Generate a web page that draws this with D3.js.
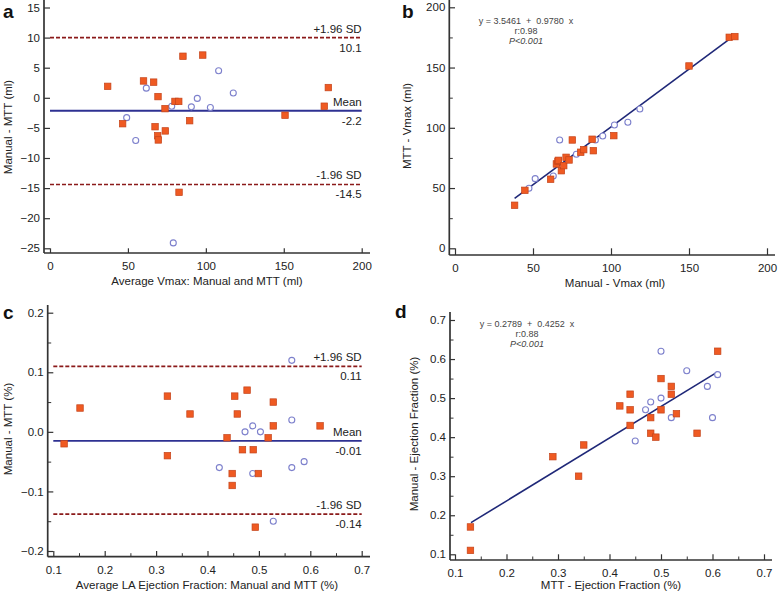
<!DOCTYPE html>
<html><head><meta charset="utf-8">
<script src="https://cdn.jsdelivr.net/npm/d3@7/dist/d3.min.js"></script>
<style>
body{margin:0;background:#fff}
text{font-family:Arial,"Liberation Sans",sans-serif;fill:#222}
</style>
</head><body>
<svg id="chart" width="778" height="594"></svg>
<script>
// ---------------- DATA ----------------
// Panel a: Bland-Altman Vmax (average, difference)
const aSquares = [[37,1.9],[46.6,-4.3],[60,2.8],[66.5,2.6],[67.4,-4.8],[69.3,0.2],[69.1,-6.3],[69.5,-7.0],
  [73.8,-1.8],[74,-5.5],[80.2,-0.6],[82.6,-0.6],[85.3,6.9],[98,7.1],[89.6,-3.8],[82.8,-15.7],
  [150.8,-2.9],[176,-1.4],[178.6,1.7]];
const aCircles = [[49.2,-3.3],[55,-7.1],[61.8,1.6],[78.1,-1.4],[90.7,-1.5],[94.5,-0.1],[102.9,-1.6],
  [108.2,4.5],[117.6,0.8],[79.1,-24.1]];
const aLimitValues = [10.0, -2.15, -14.4];
const aLimitLabels = ["+1.96 SD", "Mean", "-1.96 SD"];
const aLimitNumbers = ["10.1", "-2.2", "-14.5"];
const aXTicks = [0,50,100,150,200];
const aYTicks = [-25,-20,-15,-10,-5,0,5,10,15];

// Panel b: correlation Vmax (manual, MTT)
const bSquares = [[38.2,35.7],[44.8,48.1],[61.3,57.3],[65,70],[66,72.2],[66.3,73],[68.2,64.4],[69.7,68.6],
  [71.2,75.5],[73.1,73.3],[75.2,89.9],[80.6,79.7],[82.5,81.9],[87.9,90.5],[88.7,81],[101.8,93.5],
  [150,151.3],[175.8,175.1],[179.4,175.7]];
const bCircles = [[47.4,49.8],[51.4,57.8],[63,60],[67.1,89.9],[77.8,78],[90,89.9],[94.7,93.2],
  [102.2,102.3],[110.8,104.6],[118.5,115.6]];
const bFitLine = [[38.2,41.5],[179,176.5]];
const bEquation = ["y = 3.5461  +  0.9780  x", "r:0.98", "P<0.001"];
const bXTicks = [0,50,100,150,200];
const bYTicks = [0,50,100,150,200];
const bYMinor = [25,75,125,175];

// Panel c: Bland-Altman LA ejection fraction
const cSquares = [[0.121,-0.02],[0.152,0.04],[0.322,0.06],[0.322,-0.04],[0.366,0.03],[0.438,-0.01],
  [0.448,-0.07],[0.448,-0.09],[0.453,0.06],[0.458,0.03],[0.477,0.07],[0.468,-0.03],[0.489,-0.03],
  [0.499,-0.07],[0.493,-0.16],[0.518,-0.01],[0.528,0.05],[0.528,0.01],[0.619,0.01]];
const cCircles = [[0.423,-0.06],[0.473,0.0],[0.488,0.01],[0.488,-0.07],[0.503,0.0],[0.528,-0.15],
  [0.564,0.12],[0.564,0.02],[0.564,-0.06],[0.588,-0.05]];
const cLimitValues = [0.11, -0.015, -0.138];
const cLimitLabels = ["+1.96 SD", "Mean", "-1.96 SD"];
const cLimitNumbers = ["0.11", "-0.01", "-0.14"];
const cXTicks = [0.1,0.2,0.3,0.4,0.5,0.6,0.7];
const cXMinor = [0.15,0.25,0.35,0.45,0.55,0.65];
const cYTicks = [-0.2,-0.1,0,0.1,0.2];
const cYMinor = [-0.15,-0.05,0.05,0.15];

// Panel d: correlation ejection fraction
const dSquares = [[0.13,0.17],[0.13,0.11],[0.29,0.35],[0.34,0.30],[0.35,0.38],[0.42,0.48],[0.44,0.51],
  [0.44,0.47],[0.44,0.43],[0.48,0.45],[0.48,0.41],[0.49,0.40],[0.50,0.55],[0.50,0.47],[0.52,0.53],
  [0.52,0.51],[0.53,0.46],[0.57,0.41],[0.61,0.62]];
const dCircles = [[0.45,0.39],[0.47,0.47],[0.48,0.49],[0.50,0.50],[0.50,0.62],[0.52,0.45],[0.55,0.57],
  [0.59,0.53],[0.60,0.45],[0.61,0.56]];
const dFitLine = [[0.131,0.181],[0.61,0.567]];
const dEquation = ["y = 0.2789  +  0.4252  x", "r:0.88", "P<0.001"];
const dXTicks = [0.1,0.2,0.3,0.4,0.5,0.6,0.7];
const dXMinor = [0.15,0.25,0.35,0.45,0.55,0.65];
const dYTicks = [0.1,0.2,0.3,0.4,0.5,0.6,0.7];
const dYMinor = [0.15,0.25,0.35,0.45,0.55,0.65];

// ---------------- LAYOUT ----------------
const SQ_FILL = "#EF5A22", SQ_STROKE = "#C4431A", CIRC = "#7D80CC";
const AXIS_COL = "#333", MEAN_COL = "#2E3192", SD_COL = "#8B1A1A", FIT_COL = "#1F2878";

const panels = [
  { letter:"a", lx:3, ly:18, xDom:[0,200], xR:[50,361.7], yDom:[-25,15], yR:[248.3,7.5],
    axX:44, axY:253, top:0, right:370, xTicks:aXTicks, yTicks:aYTicks, xMinor:[], yMinor:[],
    fmtX:d3.format("d"), fmtY:d3.format("d"),
    squares:aSquares, circles:aCircles,
    limits:{values:aLimitValues, labels:aLimitLabels, numbers:aLimitNumbers},
    xTitle:"Average Vmax: Manual and MTT (ml)", xtx:207, xty:285,
    yTitle:"Manual - MTT (ml)", ytx:12, yty:127 },
  { letter:"b", lx:402, ly:18, xDom:[0,200], xR:[455,767], yDom:[0,200], yR:[248.3,7.3],
    axX:449.3, axY:255, top:0, right:775, xTicks:bXTicks, yTicks:bYTicks, xMinor:[], yMinor:bYMinor,
    fmtX:d3.format("d"), fmtY:d3.format("d"),
    squares:bSquares, circles:bCircles, fit:bFitLine, eq:bEquation, eqx:526, eqy:24,
    xTitle:"Manual - Vmax (ml)", xtx:615, xty:287,
    yTitle:"MTT - Vmax (ml)", ytx:411, yty:126 },
  { letter:"c", lx:3, ly:319, xDom:[0.1,0.7], xR:[53.3,361.7], yDom:[-0.2,0.2], yR:[551,312.7],
    axX:47.7, axY:556.7, top:305, right:370, xTicks:cXTicks, yTicks:cYTicks, xMinor:cXMinor, yMinor:cYMinor,
    fmtX:d3.format(".1f"), fmtY:d3.format(".1f"),
    squares:cSquares, circles:cCircles,
    limits:{values:cLimitValues, labels:cLimitLabels, numbers:cLimitNumbers},
    xTitle:"Average LA Ejection Fraction: Manual and MTT (%)", xtx:207, xty:589,
    yTitle:"Manual - MTT (%)", ytx:12, yty:429 },
  { letter:"d", lx:395, ly:318, xDom:[0.1,0.7], xR:[455,764], yDom:[0.1,0.7], yR:[554.3,320],
    axX:450, axY:560, top:312, right:772, xTicks:dXTicks, yTicks:dYTicks, xMinor:dXMinor, yMinor:dYMinor,
    fmtX:d3.format(".1f"), fmtY:d3.format(".1f"),
    squares:dSquares, circles:dCircles, fit:dFitLine, eq:dEquation, eqx:527, eqy:327,
    xTitle:"MTT - Ejection Fraction (%)", xtx:611, xty:589,
    yTitle:"Manual - Ejection Fraction (%)", ytx:418, yty:434 }
];

const svg = d3.select("#chart");

panels.forEach(p => {
  const x = d3.scaleLinear().domain(p.xDom).range(p.xR);
  const y = d3.scaleLinear().domain(p.yDom).range(p.yR);
  const g = svg.append("g");

  // panel letter
  g.append("text").attr("x", p.lx).attr("y", p.ly).text(p.letter)
    .style("font-size","19px").style("font-weight","bold").style("fill","#111");

  // y axis (inward ticks)
  const yAx = g.append("g").attr("transform",`translate(${p.axX},0)`)
    .call(d3.axisLeft(y).tickValues(p.yTicks).tickSize(-(p.xR[0]-p.axX)).tickPadding(4).tickFormat(p.fmtY));
  if (p.yMinor.length) {
    g.append("g").attr("transform",`translate(${p.axX},0)`)
      .call(d3.axisLeft(y).tickValues(p.yMinor).tickSize(-3.5).tickFormat(""))
      .call(s => s.select(".domain").remove())
      .selectAll("line").attr("stroke",AXIS_COL);
  }
  // x axis
  const xAx = g.append("g").attr("transform",`translate(0,${p.axY})`)
    .call(d3.axisBottom(x).tickValues(p.xTicks).tickSize(-(p.axY-p.yR[0])).tickPadding(9).tickFormat(p.fmtX));
  if (p.xMinor.length) {
    g.append("g").attr("transform",`translate(0,${p.axY})`)
      .call(d3.axisBottom(x).tickValues(p.xMinor).tickSize(-3.5).tickFormat(""))
      .call(s => s.select(".domain").remove())
      .selectAll("line").attr("stroke",AXIS_COL);
  }
  [yAx, xAx].forEach(a => {
    a.select(".domain").remove();
    a.selectAll("line").attr("stroke",AXIS_COL).attr("stroke-width",1.2);
    a.selectAll("text").style("font-size","11.5px").style("fill","#222")
      .style("font-family","Arial, 'Liberation Sans', sans-serif");
  });
  // axis lines
  g.append("line").attr("x1",p.axX).attr("x2",p.axX).attr("y1",p.top).attr("y2",p.axY)
    .attr("stroke",AXIS_COL).attr("stroke-width",1.7);
  g.append("line").attr("x1",p.axX).attr("x2",p.right).attr("y1",p.axY).attr("y2",p.axY)
    .attr("stroke",AXIS_COL).attr("stroke-width",1.7);

  // limits of agreement
  if (p.limits) {
    p.limits.values.forEach((v,i) => {
      const yy = y(v);
      const isMean = i === 1;
      g.append("line").attr("x1",p.xR[0]).attr("x2",p.xR[1]).attr("y1",yy).attr("y2",yy)
        .attr("stroke", isMean ? MEAN_COL : SD_COL).attr("stroke-width", isMean ? 1.8 : 1.7)
        .attr("stroke-dasharray", isMean ? null : "4,2");
      g.append("text").attr("x",p.xR[1]).attr("y",yy-5).attr("text-anchor","end")
        .style("font-size","11.5px").text(p.limits.labels[i]);
      g.append("text").attr("x",p.xR[1]).attr("y",yy+14).attr("text-anchor","end")
        .style("font-size","11.5px").text(p.limits.numbers[i]);
    });
  }

  // regression line
  if (p.fit) {
    g.append("line").attr("x1",x(p.fit[0][0])).attr("y1",y(p.fit[0][1]))
      .attr("x2",x(p.fit[1][0])).attr("y2",y(p.fit[1][1]))
      .attr("stroke",FIT_COL).attr("stroke-width",1.6);
  }
  if (p.eq) {
    p.eq.forEach((t,i) => {
      g.append("text").attr("x",p.eqx).attr("y",p.eqy + i*10).attr("text-anchor","middle")
        .style("font-size","9px").style("fill","#444").style("font-style", i===2 ? "italic" : "normal")
        .style("white-space","pre").attr("xml:space","preserve").text(t);
    });
  }

  // circles
  g.selectAll("circle.c").data(p.circles).enter().append("circle")
    .attr("cx",d=>x(d[0])).attr("cy",d=>y(d[1])).attr("r",3)
    .attr("fill","#fff").attr("stroke",CIRC).attr("stroke-width",1.1);
  // squares
  const s = 6.5;
  g.selectAll("rect.s").data(p.squares).enter().append("rect")
    .attr("x",d=>x(d[0])-s/2).attr("y",d=>y(d[1])-s/2).attr("width",s).attr("height",s)
    .attr("fill",SQ_FILL).attr("stroke",SQ_STROKE).attr("stroke-width",0.7);

  // titles
  g.append("text").attr("x",p.xtx).attr("y",p.xty).attr("text-anchor","middle")
    .style("font-size","11.5px").text(p.xTitle);
  g.append("text").attr("transform",`translate(${p.ytx},${p.yty}) rotate(-90)`).attr("text-anchor","middle")
    .style("font-size","11.5px").text(p.yTitle);
});
</script>
</body></html>
